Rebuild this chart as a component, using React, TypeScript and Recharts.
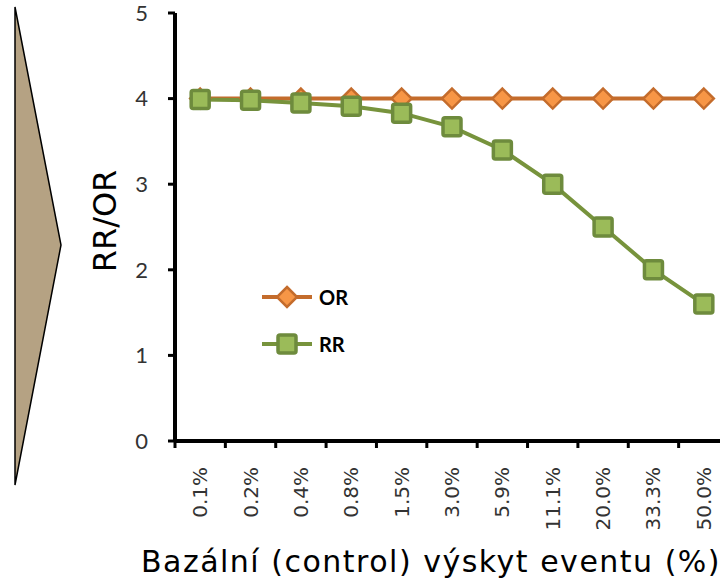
import React from "react";
import { LineChart, Line, XAxis, YAxis, Legend, Label } from "recharts";

const categories = ["0.1%", "0.2%", "0.4%", "0.8%", "1.5%", "3.0%", "5.9%", "11.1%", "20.0%", "33.3%", "50.0%"];
const orValues = [4, 4, 4, 4, 4, 4, 4, 4, 4, 4, 4];
const rrValues = [3.99, 3.98, 3.95, 3.91, 3.83, 3.67, 3.4, 3.0, 2.5, 2.0, 1.6];
const yTicks = [0, 1, 2, 3, 4, 5];

const data = categories.map((c, i) => ({ cat: c, OR: orValues[i], RR: rrValues[i] }));

const CHART_W = 760;
const CHART_H = 585;
const MARGIN = { top: 13, right: 31, bottom: 0, left: 115 };
const Y_W = 60;
const PLOT_W = CHART_W - MARGIN.left - MARGIN.right - Y_W;
const STEP = PLOT_W / categories.length;

const OR_LINE = "#c46c2c";
const OR_FILL = "#f79646";
const RR_LINE = "#77933c";
const RR_FILL = "#9bbb59";
const RR_EDGE = "#6e8b3d";

const Diamond = (props: any) => {
  const { cx, cy } = props;
  if (cx == null || cy == null) return null;
  const r = 10;
  return (
    <polygon
      points={`${cx},${cy - r} ${cx + r},${cy} ${cx},${cy + r} ${cx - r},${cy}`}
      fill={OR_FILL}
      stroke={OR_LINE}
      strokeWidth={2.5}
    />
  );
};

const Square = (props: any) => {
  const { cx, cy } = props;
  if (cx == null || cy == null) return null;
  const s = 18;
  return (
    <rect x={cx - s / 2} y={cy - s / 2} width={s} height={s} rx={2} fill={RR_FILL} stroke={RR_EDGE} strokeWidth={3.5} />
  );
};

const XTick = (props: any) => {
  const { x, y, payload } = props;
  return (
    <g>
      <line x1={x - STEP / 2} y1={y} x2={x - STEP / 2} y2={y + 7} stroke="#000" strokeWidth={3} />
      <g transform={`translate(${x},${y + 26}) rotate(-90)`}>
        <text
          x={0}
          y={0}
          textAnchor="end"
          dominantBaseline="central"
          fontFamily="DejaVu Sans"
          fontSize={20}
          fill="#333"
        >
          {payload.value}
        </text>
      </g>
    </g>
  );
};

const LegendContent = (props: any) => {
  const items = props.payload || [];
  return (
    <svg width={120} height={80}>
      {items.map((it: any, i: number) => {
        const y = 12 + i * 47;
        const isOR = it.value === "OR";
        return (
          <g key={it.value}>
            <line x1={0} y1={y} x2={50} y2={y} stroke={isOR ? OR_LINE : RR_LINE} strokeWidth={4} />
            {isOR ? <Diamond cx={25} cy={y} /> : <Square cx={25} cy={y} />}
            <text x={57} y={y} dominantBaseline="central" fontFamily="Lato" fontWeight="bold" fontSize={20} fill="#000">
              {it.value}
            </text>
          </g>
        );
      })}
    </svg>
  );
};

export default function App() {
  return (
    <div style={{ position: "absolute", left: 0, top: 0, width: 720, height: 585, overflow: "hidden", background: "#fff" }}>
      <svg width={80} height={500} style={{ position: "absolute", left: 0, top: 0 }}>
        <polygon points="15,7 61,245 15,485" fill="#b5a283" stroke="#000" strokeWidth={1.5} />
      </svg>
      <div style={{ position: "absolute", left: 0, top: 0 }}>
        <LineChart width={CHART_W} height={CHART_H} data={data} margin={MARGIN}>
          <XAxis
            dataKey="cat"
            height={CHART_H - 441}
            padding={{ left: STEP / 2, right: STEP / 2 }}
            axisLine={{ stroke: "#000", strokeWidth: 4 }}
            tickLine={false}
            tickSize={0}
            tickMargin={0}
            interval={0}
            tick={<XTick />}
          >
            <Label
              content={(p: any) => {
                const vb = p.viewBox;
                return (
                  <text
                    x={vb.x + 256}
                    y={572}
                    textAnchor="middle"
                    fontFamily="DejaVu Sans"
                    fontSize={30}
                    letterSpacing={1.5}
                    fill="#000"
                  >
                    Bazální (control) výskyt eventu (%)
                  </text>
                );
              }}
            />
          </XAxis>
          <YAxis
            width={Y_W}
            domain={[0, 5]}
            ticks={yTicks}
            interval={0}
            axisLine={{ stroke: "#000", strokeWidth: 4 }}
            tickLine={{ stroke: "#000", strokeWidth: 3 }}
            tickSize={7}
            tickMargin={20}
            tick={{ fontFamily: "Lato", fontSize: 22, fill: "#333" }}
          >
            <Label
              content={() => (
                <text
                  x={0}
                  y={0}
                  transform="translate(116,221) rotate(-90)"
                  textAnchor="middle"
                  fontFamily="DejaVu Sans"
                  fontSize={32}
                  fill="#000"
                >
                  RR/OR
                </text>
              )}
            />
          </YAxis>
          <Legend
            layout="vertical"
            align="center"
            verticalAlign="middle"
            wrapperStyle={{ left: 262, top: 285, width: 120 }}
            content={<LegendContent />}
          />
          <Line
            dataKey="OR"
            name="OR"
            stroke={OR_LINE}
            strokeWidth={4}
            dot={<Diamond />}
            activeDot={false}
            isAnimationActive={false}
          />
          <Line
            dataKey="RR"
            name="RR"
            stroke={RR_LINE}
            strokeWidth={4}
            dot={<Square />}
            activeDot={false}
            isAnimationActive={false}
          />
        </LineChart>
      </div>
    </div>
  );
}
